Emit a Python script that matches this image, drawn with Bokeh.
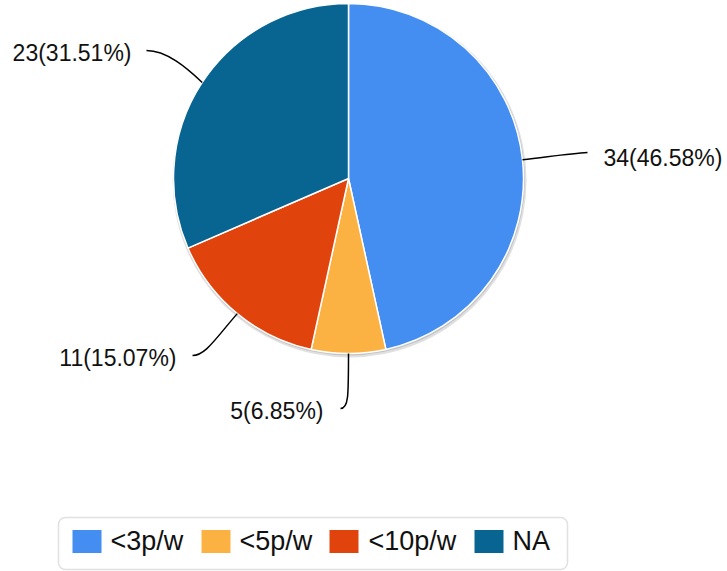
import math
from bokeh.plotting import figure
from bokeh.models import Range1d, BoxAnnotation
from bokeh.core.properties import value
from bokeh.embed import file_html
from bokeh.resources import INLINE

# ---- data ----
categories = ["<3p/w", "<5p/w", "<10p/w", "NA"]
counts = [34, 5, 11, 23]
colors = ["#438EF0", "#FBB243", "#E0440C", "#086491"]

# ---- layout (image pixel coordinates; data y = -pixel y) ----
W, H = 727, 571
CX, CY, R = 348, 178, 175
FONT = "Liberation Sans"

p = figure(width=W, height=H, x_range=Range1d(0, W), y_range=Range1d(-H, 0),
           output_backend="svg", toolbar_location=None, min_border=0,
           x_axis_location=None, y_axis_location=None)
p.grid.visible = False
p.outline_line_color = None
p.background_fill_color = "white"

total = sum(counts)
cum = [0]
for c in counts:
    cum.append(cum[-1] + c)
starts = [math.pi / 2 - 2 * math.pi * cum[i] / total for i in range(len(counts))]
ends = [math.pi / 2 - 2 * math.pi * cum[i + 1] / total for i in range(len(counts))]
mids = [(s + e) / 2 for s, e in zip(starts, ends)]
labels = ["%d(%.2f%%)" % (c, 100.0 * c / total) for c in counts]

# shadow
p.circle(x=[CX + 1], y=[-(CY + 2)], radius=R + 2, fill_color="#000000", fill_alpha=0.12, line_color=None)
p.circle(x=[CX + 0.5], y=[-(CY + 1)], radius=R + 1, fill_color="#000000", fill_alpha=0.12, line_color=None)

p.wedge(x=[CX] * len(counts), y=[-CY] * len(counts), radius=R,
        start_angle=starts, end_angle=ends, direction="clock",
        fill_color=colors, line_color="white", line_width=1.5)

# leader lines: start at slice edge, end near label
edge = [(CX + R * math.cos(a), -(CY) + R * math.sin(a)) for a in mids]
label_end = [(587, -152), (340, -408), (192, -355), (146, -50)]
ctrl0 = [(550, -156), (348, -396), (215, -338), (186, -67)]
ctrl1 = [(570, -153), (348, -408), (205, -355), (166, -50)]
p.bezier(x0=[e[0] for e in edge], y0=[e[1] for e in edge],
         x1=[q[0] for q in label_end], y1=[q[1] for q in label_end],
         cx0=[q[0] for q in ctrl0], cy0=[q[1] for q in ctrl0],
         cx1=[q[0] for q in ctrl1], cy1=[q[1] for q in ctrl1],
         line_color="black", line_width=1.5)

label_pos = [(603, -157, "left"), (323, -410, "right"), (176, -357, "right"), (131, -52, "right")]
for (lx, ly, al), t in zip(label_pos, labels):
    p.text(x=[lx], y=[ly], text=[t], text_align=al, text_baseline="middle",
           text_font=value(FONT), text_font_size="23px", text_color="#111111")

# legend
p.add_layout(BoxAnnotation(left=58, right=567, top=-517, bottom=-569, fill_color="white",
                           fill_alpha=1, line_color="#9a9a9a", line_width=1.5, border_radius=7,
                           level="underlay"))
sw_left = [72, 201, 329, 474]
tx_left = [110, 239, 368, 512]
LY = -541
p.rect(x=[s + 14.5 for s in sw_left], y=[LY] * 4, width=29, height=23, fill_color=colors, line_color=None)
p.text(x=tx_left, y=[LY + 1] * 4, text=categories, text_align="left", text_baseline="middle",
       text_font=value(FONT), text_font_size="27px", text_color="#111111")

open("out.html", "w").write(file_html(p, INLINE))
